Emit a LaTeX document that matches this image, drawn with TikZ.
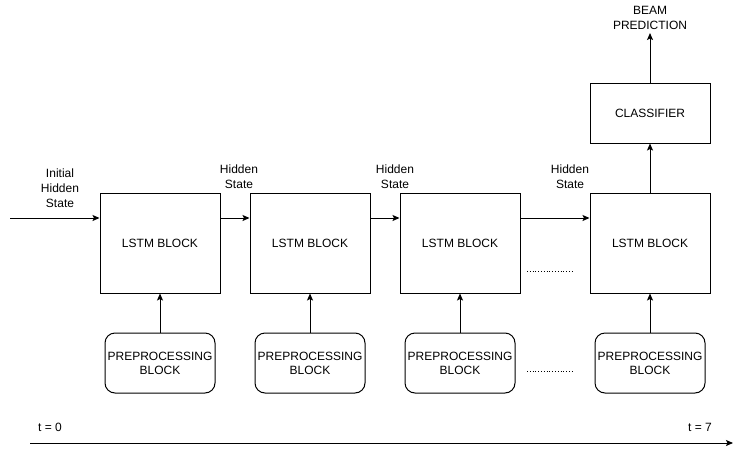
\documentclass[tikz,border=0pt]{standalone}
\usepackage{fontspec}
\setmainfont{Liberation Sans}
\usetikzlibrary{arrows.meta}
\begin{document}
\begin{tikzpicture}[x=1pt,y=-1pt,
  font=\fontsize{12}{14}\selectfont,
  line width=1pt,
  lstm/.style={draw,minimum width=120pt,minimum height=100pt,inner sep=0pt},
  prep/.style={draw,rounded corners=10pt,minimum width=110pt,minimum height=60pt,inner sep=0pt,align=center},
  cls/.style={draw,minimum width=120pt,minimum height=60pt,inner sep=0pt},
  lbl/.style={align=center,inner sep=0pt,font=\fontsize{12}{15}\selectfont},
  arr/.style={-{Stealth[length=7pt,width=6pt,inset=1.5pt]}},
  dots/.style={dotted,line width=0.8pt}]
\useasboundingbox (0,0) rectangle (743,455);
\node[lstm] (l1) at (160,243) {LSTM BLOCK};
\node[lstm] (l2) at (310,243) {LSTM BLOCK};
\node[lstm] (l3) at (460,243) {LSTM BLOCK};
\node[lstm] (l4) at (650,243) {LSTM BLOCK};
\node[prep] (p1) at (160,363) {PREPROCESSING\\BLOCK};
\node[prep] (p2) at (310,363) {PREPROCESSING\\BLOCK};
\node[prep] (p3) at (460,363) {PREPROCESSING\\BLOCK};
\node[prep] (p4) at (650,363) {PREPROCESSING\\BLOCK};
\node[cls] (c) at (650,113) {CLASSIFIER};
\node[lbl] (beam) at (650,18) {BEAM\\PREDICTION};
\coordinate (bt) at (650,33);
\node[lbl] (init) at (60,188) {Initial\\Hidden\\State};
\node[lbl] (h1) at (239,177) {Hidden\\State};
\node[lbl] (h2) at (395,177) {Hidden\\State};
\node[lbl] (h3) at (570,177) {Hidden\\State};
\coordinate (s0) at (10,218);
\draw[arr] (s0) -- (l1.west |- s0);
\draw[arr] (l1.east |- s0) -- (l2.west |- s0);
\draw[arr] (l2.east |- s0) -- (l3.west |- s0);
\draw[arr] (l3.east |- s0) -- (l4.west |- s0);
\foreach \i in {1,2,3,4} \draw[arr] (p\i.north) -- (l\i.south);
\draw[arr] (l4.north) -- (c.south);
\draw[arr] (c.north) -- (bt);
\coordinate (d1a) at (527,271); \coordinate (d1b) at (573,271);
\coordinate (d2a) at (527,371); \coordinate (d2b) at (573,371);
\draw[dots] (d1a) -- (d1b);
\draw[dots] (d2a) -- (d2b);
\node[lbl] (t0) at (50,427) {t = 0};
\node[lbl] (t7) at (700,427) {t = 7};
\coordinate (ta) at (30,443); \coordinate (tb) at (733,443);
\draw[arr] (ta) -- (tb);
\end{tikzpicture}
\end{document}
